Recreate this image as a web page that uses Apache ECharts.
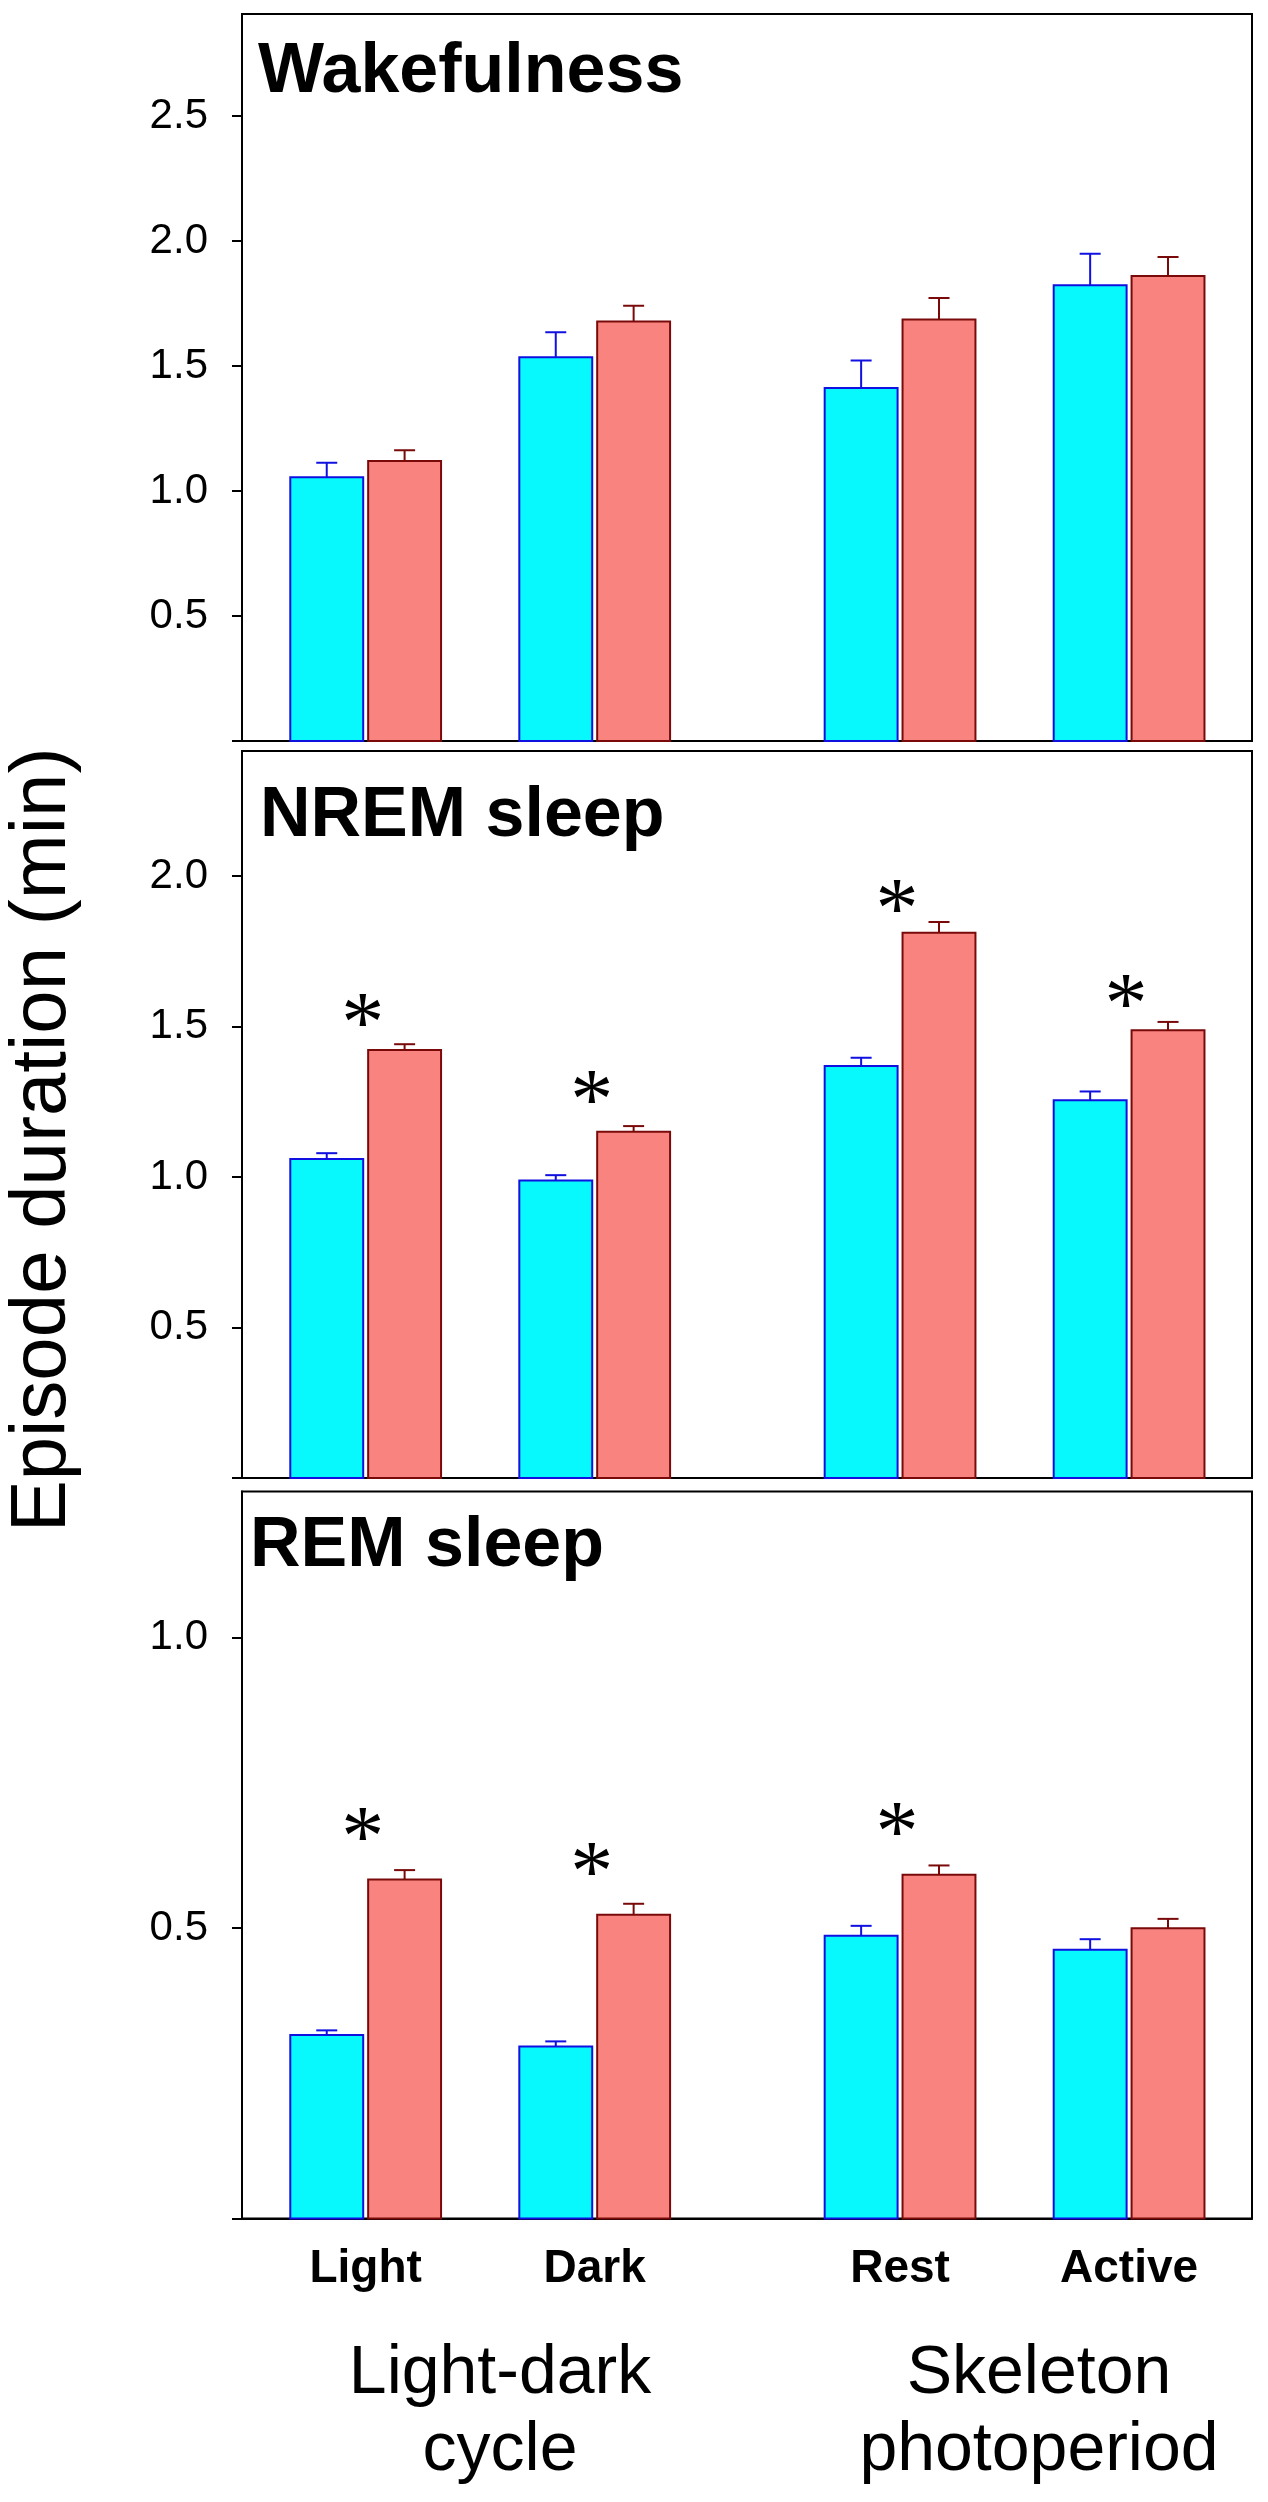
<!DOCTYPE html>
<html>
<head>
<meta charset="utf-8">
<script src="https://cdn.jsdelivr.net/npm/echarts@6/dist/echarts.min.js"></script>
<style>
html,body{margin:0;padding:0;background:#fff;}
#chart{width:1268px;height:2502px;}
</style>
</head>
<body>
<div id="chart"></div>
<script>
// ---------- data ----------
const groups = ['Light', 'Dark', 'Rest', 'Active'];
const panelTitles = ['Wakefulness', 'NREM sleep', 'REM sleep'];

const wakeCtrl     = [1.055, 1.535, 1.412, 1.823];
const wakeCtrlSem  = [0.058, 0.100, 0.110, 0.126];
const wakeTreat    = [1.120, 1.678, 1.686, 1.860];
const wakeTreatSem = [0.043, 0.063, 0.086, 0.076];
const wakeStar     = [null, null, null, null];

const nremCtrl     = [1.060, 0.988, 1.369, 1.255];
const nremCtrlSem  = [0.019, 0.018, 0.027, 0.029];
const nremTreat    = [1.422, 1.150, 1.811, 1.487];
const nremTreatSem = [0.019, 0.019, 0.036, 0.028];
const nremStar     = [1.548, 1.292, 1.928, 1.610];

const remCtrl      = [0.316, 0.296, 0.487, 0.463];
const remCtrlSem   = [0.008, 0.009, 0.017, 0.018];
const remTreat     = [0.584, 0.523, 0.592, 0.500];
const remTreatSem  = [0.016, 0.019, 0.016, 0.016];
const remStar      = [0.675, 0.615, 0.684, null];

const wakeTicks = [0.5, 1.0, 1.5, 2.0, 2.5];
const nremTicks = [0.5, 1.0, 1.5, 2.0];
const remTicks  = [0.5, 1.0];
const yMax = [2.908, 2.415, 1.252];

// ---------- layout ----------
const slot = [0, 3, 7, 10];           // slot index of each group on the x scale
const gridTops = [14, 751, 1491.5];
const gridH = 727;
const SANS = '"Liberation Sans", Arial, sans-serif';
const CYAN = '#08f9fd', CYAN_EDGE = '#1010e0';
const RED = '#f9847f', RED_EDGE = '#7a0a0a';

const panels = [
  {c: wakeCtrl, cs: wakeCtrlSem, t: wakeTreat, ts: wakeTreatSem, star: wakeStar, ticks: wakeTicks},
  {c: nremCtrl, cs: nremCtrlSem, t: nremTreat, ts: nremTreatSem, star: nremStar, ticks: nremTicks},
  {c: remCtrl,  cs: remCtrlSem,  t: remTreat,  ts: remTreatSem,  star: remStar,  ticks: remTicks}
];

const grids = [], xAxes = [], yAxes = [], series = [];

function barSeries(pi, vals, sems, side, fill, edge) {
  return {
    type: 'custom', xAxisIndex: pi, yAxisIndex: pi, clip: false,
    data: slot.map((p, i) => [p, vals[i], sems[i]]),
    renderItem: function (params, api) {
      const x = api.value(0), v = api.value(1), s = api.value(2);
      const unit = api.size([1, 0])[0];
      const bw = unit * 0.955, gap = unit * 0.065;
      const base = api.coord([x, 0]);
      const top = api.coord([x, v]);
      const et = api.coord([x, v + s]);
      const cx = base[0] + side * (gap / 2 + bw / 2);
      return {
        type: 'group',
        children: [
          {type: 'rect', shape: {x: cx - bw / 2, y: top[1], width: bw, height: base[1] - top[1]},
           style: {fill: fill, stroke: edge, lineWidth: 2}},
          {type: 'line', shape: {x1: cx, y1: top[1], x2: cx, y2: et[1]},
           style: {stroke: edge, lineWidth: 2}},
          {type: 'line', shape: {x1: cx - 10.5, y1: et[1], x2: cx + 10.5, y2: et[1]},
           style: {stroke: edge, lineWidth: 2}}
        ]
      };
    }
  };
}

function starSeries(pi, stars) {
  const d = [];
  slot.forEach((p, i) => { if (stars[i] != null) d.push([p, stars[i]]); });
  return {
    type: 'custom', xAxisIndex: pi, yAxisIndex: pi, clip: false,
    data: d,
    renderItem: function (params, api) {
      const c = api.coord([api.value(0), api.value(1)]);
      const fs = 86;
      return {
        type: 'text', x: c[0] - 3, y: c[1] + 0.19 * fs,
        style: {text: '*', font: fs + 'px "Liberation Serif", "Times New Roman", serif',
                fill: '#000', align: 'center', verticalAlign: 'middle'}
      };
    }
  };
}

panels.forEach((pn, pi) => {
  grids.push({left: 242, width: 1010, top: gridTops[pi], height: gridH,
              show: true, borderColor: '#000', borderWidth: 2, backgroundColor: 'transparent'});
  const last = pi === panels.length - 1;
  xAxes.push({
    type: 'value', gridIndex: pi, min: -1.62, max: 11.61,
    splitLine: {show: false},
    axisLine: {show: true, onZero: false, lineStyle: {color: '#000', width: 2}},
    axisTick: {show: false},
    axisLabel: last ? {
      show: true, customValues: slot, margin: 28,
      formatter: v => groups[slot.indexOf(v)] || '',
      fontFamily: SANS, fontWeight: 'bold', fontSize: 46, color: '#000'
    } : {show: false}
  });
  yAxes.push({
    type: 'value', gridIndex: pi, min: 0, max: yMax[pi],
    splitLine: {show: false},
    axisLine: {show: true, onZero: false, lineStyle: {color: '#000', width: 2}},
    axisTick: {show: true, inside: false, length: 10, customValues: [0].concat(pn.ticks),
               lineStyle: {color: '#000', width: 2}},
    axisLabel: {show: true, customValues: pn.ticks, margin: 34,
                formatter: v => v.toFixed(1),
                fontFamily: SANS, fontSize: 42, color: '#000'}
  });
  series.push(barSeries(pi, pn.c, pn.cs, -1, CYAN, CYAN_EDGE));
  series.push(barSeries(pi, pn.t, pn.ts, 1, RED, RED_EDGE));
  series.push(starSeries(pi, pn.star));
});

const titlePos = [[258, 73], [260, 816.5], [250, 1546.7]];
const graphic = [];
panelTitles.forEach((t, i) => {
  graphic.push({type: 'text', x: titlePos[i][0], y: titlePos[i][1],
    style: {text: t, font: 'bold 70px ' + SANS, fill: '#000', align: 'left', verticalAlign: 'middle'}});
});
graphic.push({type: 'text', x: 43, y: 1140, rotation: Math.PI / 2,
  style: {text: 'Episode duration (min)', font: '78px ' + SANS, fill: '#000',
          align: 'center', verticalAlign: 'middle'}});
const groupTitles = [['Light-dark', 'cycle', 500], ['Skeleton', 'photoperiod', 1039]];
groupTitles.forEach(g => {
  graphic.push({type: 'text', x: g[2], y: 2374.4,
    style: {text: g[0], font: '68px ' + SANS, fill: '#000', align: 'center', verticalAlign: 'middle'}});
  graphic.push({type: 'text', x: g[2], y: 2451.4,
    style: {text: g[1], font: '68px ' + SANS, fill: '#000', align: 'center', verticalAlign: 'middle'}});
});

const chart = echarts.init(document.getElementById('chart'), null, {renderer: 'canvas'});
chart.setOption({
  animation: false,
  backgroundColor: '#fff',
  grid: grids,
  xAxis: xAxes,
  yAxis: yAxes,
  series: series,
  graphic: graphic
});
</script>
</body>
</html>
